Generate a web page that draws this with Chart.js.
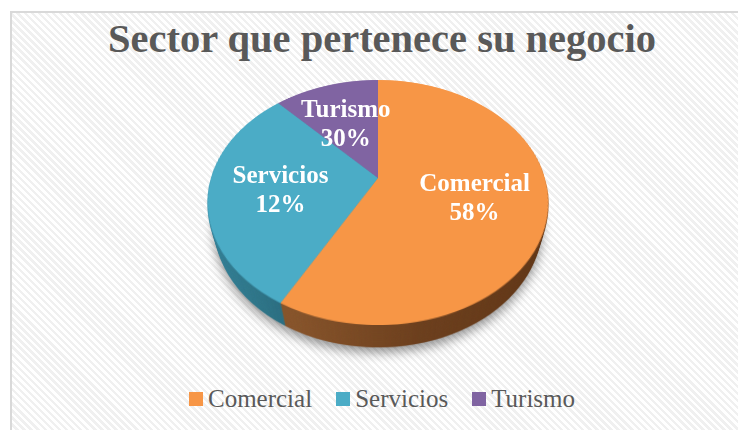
<!DOCTYPE html>
<html>
<head>
<meta charset="utf-8">
<script src="https://cdn.jsdelivr.net/npm/chart.js@4.4.1/dist/chart.umd.min.js"></script>
<style>
html,body{margin:0;padding:0;background:#fff;width:738px;height:430px;overflow:hidden;position:relative;}
#frame{position:absolute;left:10px;top:11px;width:760px;height:440px;border-left:2px solid #d9d9d9;border-top:2px solid #d9d9d9;box-sizing:border-box;
  background:repeating-linear-gradient(45deg,#ffffff 0px,#ffffff 2.5px,#f0f0f0 2.5px,#f0f0f0 5px);}
#title{position:absolute;left:0;top:15px;width:764px;text-align:center;font:bold 40.5px "Liberation Serif";line-height:48px;color:#595959;white-space:nowrap;}
.layer{position:absolute;left:211px;top:11px;width:334px;height:334px;transform-origin:50% 50%;}
.lbl{position:absolute;transform:translate(-50%,-50%);color:#fff;font:bold 25px "Liberation Serif";text-align:center;line-height:29px;white-space:nowrap;}
#legend{position:absolute;left:0;top:386px;width:764px;display:flex;justify-content:center;align-items:center;gap:24px;font:25px "Liberation Serif";line-height:25px;color:#595959;}
#legend .item{display:flex;align-items:center;}
#legend .sw{width:14px;height:14px;margin-right:5px;margin-top:1px;}
</style>
</head>
<body>
<div id="frame"></div>
<div id="stack"></div>
<div id="title">Sector que pertenece su negocio</div>
<div id="labels"></div>
<div id="legend"></div>
<script>
// ---- data ----
const categories = ['Comercial', 'Servicios', 'Turismo'];
const values = [58, 30, 12];
const shownPercents = ['58%', '12%', '30%']; // percentages as printed on the reference
const topColors = ['#F79646', '#4BACC6', '#8064A2'];
const sideStops = [
  [[0, '#8F5C2E'], [0.3, '#86532A'], [0.6, '#6C3F1D'], [1, '#603515']],
  [[0, '#33819A'], [0.15, '#2F788C'], [0.3, '#2A6B7D'], [1, '#2A6B7D']],
  [[0, '#5A4675'], [1, '#4E3C66']]
];

// ---- 3D view ----
const VIEW = 'perspective(592px) rotateX(45.2deg)';
const CX = 378, CY = 178, SIZE = 334, DEPTH = 35;

const stack = document.getElementById('stack');
function makeCanvas(z, extra) {
  const c = document.createElement('canvas');
  c.width = SIZE; c.height = SIZE;
  c.className = 'layer';
  c.style.left = (CX - SIZE / 2) + 'px';
  c.style.top = (CY - SIZE / 2) + 'px';
  c.style.transform = VIEW + ' translateZ(' + (-z) + 'px)';
  if (extra) Object.assign(c.style, extra);
  stack.appendChild(c);
  return c;
}

const baseOpts = {
  responsive: false,
  devicePixelRatio: 2,
  animation: false,
  events: [],
  layout: { padding: 0 },
  plugins: { legend: { display: false }, tooltip: { enabled: false }, title: { display: false } }
};

// side (wall) chart: same data, darker colours
const sideCanvas = makeCanvas(DEPTH, { filter: 'drop-shadow(0px 5px 5px rgba(0,0,0,0.4))' });
const layerCanvases = [];
for (let k = DEPTH - 1; k >= 1; k--) layerCanvases.push(makeCanvas(k));
const topCanvas = makeCanvas(0);

const sideChart = new Chart(sideCanvas, {
  type: 'pie',
  data: { labels: categories, datasets: [{
    data: values,
    borderWidth: 0,
    backgroundColor: (c) => {
      const ch = c.chart, area = ch.chartArea;
      if (!area) return topColors[c.dataIndex];
      const g = ch.ctx.createLinearGradient(area.left, 0, area.right, 0);
      sideStops[c.dataIndex].forEach(s => g.addColorStop(s[0], s[1]));
      return g;
    }
  }] },
  options: baseOpts
});

const topChart = new Chart(topCanvas, {
  type: 'pie',
  data: { labels: categories, datasets: [{ data: values, backgroundColor: topColors, borderWidth: 0 }] },
  options: baseOpts
});

// copy wall image into the intermediate layers
sideChart.draw();
layerCanvases.forEach(c => {
  c.width = sideCanvas.width; c.height = sideCanvas.height;
  c.style.width = SIZE + 'px'; c.style.height = SIZE + 'px';
  c.getContext('2d').drawImage(sideCanvas, 0, 0);
});

// ---- data labels (flat text placed over the projected slice centres) ----
const M = new DOMMatrix(VIEW);
const labelsDiv = document.getElementById('labels');
const meta = topChart.getDatasetMeta(0);
meta.data.forEach((arc, i) => {
  const p = arc.getProps(['x', 'y', 'startAngle', 'endAngle', 'outerRadius'], true);
  const mid = (p.startAngle + p.endAngle) / 2;
  const r = 0.58 * p.outerRadius;
  const lx = Math.cos(mid) * r + (p.x - SIZE / 2);
  const ly = Math.sin(mid) * r + (p.y - SIZE / 2);
  const q = M.transformPoint(new DOMPoint(lx, ly, 0, 1));
  const sx = CX + q.x / q.w, sy = CY + q.y / q.w + 2;
  const d = document.createElement('div');
  d.className = 'lbl';
  d.style.left = sx + 'px';
  d.style.top = sy + 'px';
  d.innerHTML = categories[i] + '<br>' + shownPercents[i];
  labelsDiv.appendChild(d);
});

// ---- legend ----
const legend = document.getElementById('legend');
categories.forEach((name, i) => {
  const it = document.createElement('div');
  it.className = 'item';
  it.innerHTML = '<span class="sw" style="background:' + topColors[i] + '"></span><span>' + name + '</span>';
  legend.appendChild(it);
});
</script>
</body>
</html>
